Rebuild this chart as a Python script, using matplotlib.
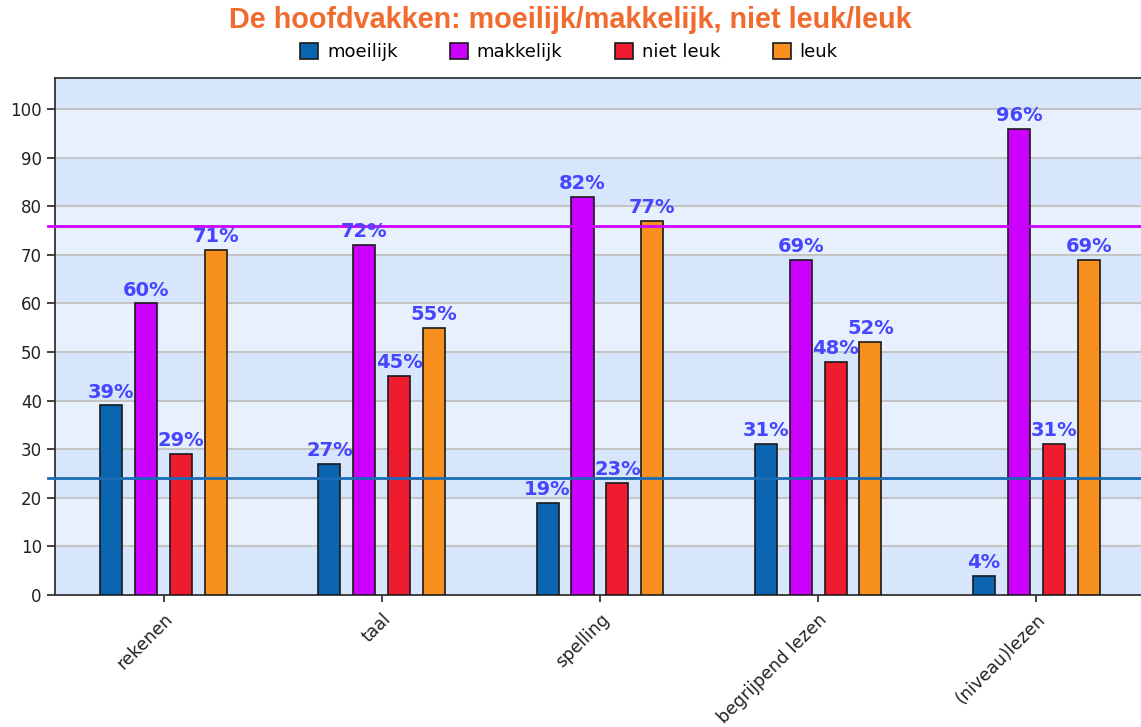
import numpy as np
import matplotlib
matplotlib.use('Agg')
import matplotlib.pyplot as plt

# data
vakken = ['rekenen', 'taal', 'spelling', 'begrijpend lezen', '(niveau)lezen']
reeksen = ['moeilijk', 'makkelijk', 'niet leuk', 'leuk']
moeilijk = [39, 27, 19, 31, 4]
makkelijk = [60, 72, 82, 69, 96]
niet_leuk = [29, 45, 23, 48, 31]
leuk = [71, 55, 77, 52, 69]
gem_moeilijk = 24
gem_makkelijk = 76

kleuren = ['#0a64b0', '#cc00ff', '#ee1c2e', '#f7901e']
waarden = [moeilijk, makkelijk, niet_leuk, leuk]

plt.rcParams['font.family'] = ['Liberation Sans', 'DejaVu Sans']

fig = plt.figure(figsize=(11.41, 7.27), dpi=100)
ax = fig.add_axes([0.0482, 0.1816, 0.9518, 0.7111])

# achtergrond banden
for i in range(11):
    kleur = '#d8e6fc' if i % 2 == 0 else '#e8f0fd'
    ax.axhspan(i * 10, i * 10 + 10, color=kleur, zorder=0, lw=0)
for y in range(10, 101, 10):
    ax.axhline(y, color='#c4c4c4', lw=1.5, zorder=1)

x = np.arange(len(vakken))
breedte = 0.101
stap = 0.16
for j, (naam, vals, kl) in enumerate(zip(reeksen, waarden, kleuren)):
    pos = x + (j - 1.5) * stap
    ax.bar(pos, vals, width=breedte, color=kl, edgecolor='#1a1a1a', lw=1.2,
           label=naam, zorder=3)
    for p, v in zip(pos, vals):
        ax.text(p, v + 0.8, f'{v}%', ha='center', va='bottom', color='#4646ff',
                fontsize=14, fontweight='bold', family='DejaVu Sans', zorder=5)

ax.plot([-0.006, 1], [gem_makkelijk] * 2, color='#cc00ff', lw=2,
        transform=ax.get_yaxis_transform(), clip_on=False, zorder=4)
ax.plot([-0.006, 1], [gem_moeilijk] * 2, color='#1a6cb4', lw=2,
        transform=ax.get_yaxis_transform(), clip_on=False, zorder=4)

ax.set_xlim(-0.498, 4.48)
ax.set_ylim(0, 106.4)
ax.set_yticks(range(0, 101, 10))
ax.set_xticks(x)
ax.set_xticklabels(vakken, rotation=45, ha='right', rotation_mode='anchor',
                   fontsize=12.5, family='DejaVu Sans', color='#222222')
ax.tick_params(axis='y', labelsize=12, length=6, width=1.2, colors='#222222')
ax.tick_params(axis='x', length=5, width=1.2, colors='#222222', pad=6)
for lbl in ax.get_yticklabels():
    lbl.set_family('DejaVu Sans')
for s in ['left', 'bottom', 'top']:
    ax.spines[s].set_color('#333333')
    ax.spines[s].set_linewidth(1.3)
ax.spines['right'].set_visible(False)

fig.text(0.5, 0.972, 'De hoofdvakken: moeilijk/makkelijk, niet leuk/leuk',
         ha='center', va='center', color='#f26b2e', fontsize=20.7,
         fontweight='bold')
fig.legend(loc='center', bbox_to_anchor=(0.4985, 0.928), ncol=4, frameon=False,
           handlelength=1.0, handleheight=1.0, handletextpad=0.5,
           columnspacing=2.9, prop={'family': 'DejaVu Sans', 'size': 13})

fig.savefig('out.png', dpi=100)
